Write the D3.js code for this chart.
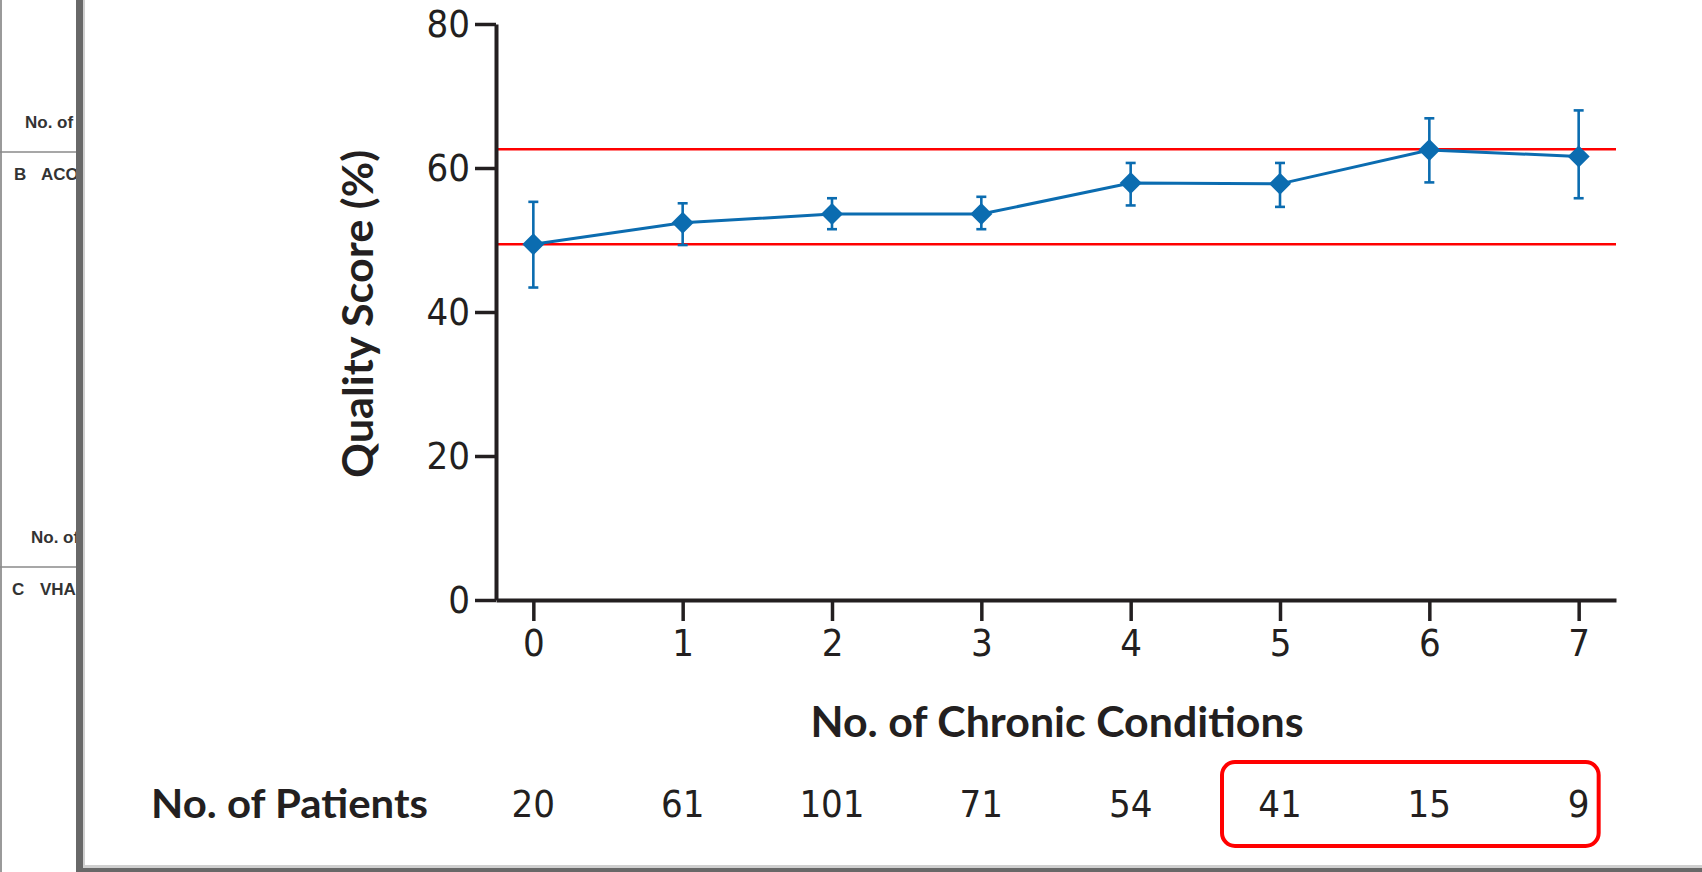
<!DOCTYPE html>
<html>
<head>
<meta charset="utf-8">
<script src="https://cdn.jsdelivr.net/npm/d3@7"></script>
<style>
  html, body { margin: 0; padding: 0; background: #fff; }
  svg { display: block; }
</style>
</head>
<body>
<svg id="chart" width="1702" height="872"></svg>
<script>
// ---- data ----
const conditions = [0, 1, 2, 3, 4, 5, 6, 7];
const meanScore  = [49.4, 52.4, 53.6, 53.6, 57.9, 57.8, 62.5, 61.6];
const upperCI    = [55.3, 55.1, 55.8, 56.0, 60.7, 60.7, 66.9, 68.0];
const lowerCI    = [43.4, 49.3, 51.5, 51.5, 54.8, 54.6, 58.0, 55.8];
const patients   = [20, 61, 101, 71, 54, 41, 15, 9];
const refLines   = [62.6, 49.4];
const yTicks     = [0, 20, 40, 60, 80];
const highlighted = [5, 6, 7];

const svg = d3.select("#chart");
const W = 1702, H = 872;
const blue = "#0b6cb0", red = "#ff0000", ink = "#231f20";
const numFont = "'Liberation Sans Narrow', 'DejaVu Sans Condensed', 'Liberation Sans', sans-serif";

// ---- scales ----
const x = d3.scaleLinear().domain([-0.25, 7.25]).range([496, 1616]);
const y = d3.scaleLinear().domain([0, 80]).range([600, 24]);

// ---- left strip (neighbouring panel fragment) ----
const strip = svg.append("g");
strip.append("line").attr("x1", 1).attr("x2", 1).attr("y1", 0).attr("y2", H)
  .attr("stroke", "#9a9a9a").attr("stroke-width", 2);
strip.selectAll("line.sep").data([152, 567]).join("line").attr("class", "sep")
  .attr("x1", 0).attr("x2", 78).attr("y1", d => d).attr("y2", d => d)
  .attr("stroke", "#8a8a8a").attr("stroke-width", 1.5);
const stripTexts = [
  {t: "No. of", x: 25, y: 128},
  {t: "B", x: 14, y: 180}, {t: "ACO", x: 41, y: 180},
  {t: "No. of", x: 31, y: 543},
  {t: "C", x: 12, y: 595}, {t: "VHA", x: 40, y: 595}
];
strip.selectAll("text").data(stripTexts).join("text")
  .attr("x", d => d.x).attr("y", d => d.y).text(d => d.t)
  .attr("font-family", "'Liberation Sans', Arial, sans-serif")
  .attr("font-weight", "bold").attr("font-size", 17).attr("fill", "#333");

// frame bars
svg.append("rect").attr("x", 76).attr("y", 0).attr("width", 7).attr("height", H).attr("fill", "#686868");
svg.append("rect").attr("x", 83).attr("y", 0).attr("width", 2).attr("height", H).attr("fill", "#cfcfcf");
svg.append("rect").attr("x", 83).attr("y", 865).attr("width", W - 83).attr("height", 3).attr("fill", "#cfcfcf");
svg.append("rect").attr("x", 76).attr("y", 868).attr("width", W - 76).attr("height", 4).attr("fill", "#686868");

// ---- reference lines ----
svg.append("g").selectAll("line").data(refLines).join("line")
  .attr("x1", x(-0.25)).attr("x2", x(7.25))
  .attr("y1", d => y(d)).attr("y2", d => y(d))
  .attr("stroke", red).attr("stroke-width", 2.5);

// ---- axes ----
const yAxis = svg.append("g").attr("transform", `translate(${x(-0.25)},0)`)
  .call(d3.axisLeft(y).tickValues(yTicks).tickSize(21).tickSizeOuter(0).tickPadding(5));
const xAxis = svg.append("g").attr("transform", `translate(0,${y(0)})`)
  .call(d3.axisBottom(x).tickValues(conditions).tickSize(21).tickSizeOuter(0).tickPadding(8)
    .tickFormat(d3.format("d")));
[yAxis, xAxis].forEach(g => {
  g.select(".domain").attr("stroke", ink).attr("stroke-width", 4);
  g.selectAll(".tick line").attr("stroke", ink).attr("stroke-width", 3.5);
  g.selectAll(".tick text").attr("fill", ink).attr("font-family", numFont).attr("font-size", 38);
});
xAxis.selectAll(".tick line").attr("y1", 2);

// ---- error bars ----
const pts = conditions.map((c, i) => ({c, m: meanScore[i], hi: upperCI[i], lo: lowerCI[i]}));
const eb = svg.append("g").attr("stroke", blue).attr("stroke-width", 2.6).attr("fill", "none");
eb.selectAll("line.v").data(pts).join("line").attr("class", "v")
  .attr("x1", d => x(d.c)).attr("x2", d => x(d.c)).attr("y1", d => y(d.hi)).attr("y2", d => y(d.lo));
eb.selectAll("line.t").data(pts).join("line").attr("class", "t")
  .attr("x1", d => x(d.c) - 5).attr("x2", d => x(d.c) + 5).attr("y1", d => y(d.hi)).attr("y2", d => y(d.hi));
eb.selectAll("line.b").data(pts).join("line").attr("class", "b")
  .attr("x1", d => x(d.c) - 5).attr("x2", d => x(d.c) + 5).attr("y1", d => y(d.lo)).attr("y2", d => y(d.lo));

// ---- line ----
svg.append("path").datum(pts)
  .attr("d", d3.line().x(d => x(d.c)).y(d => y(d.m)))
  .attr("fill", "none").attr("stroke", blue).attr("stroke-width", 3);

// ---- diamonds ----
const r = 11;
svg.append("g").selectAll("path").data(pts).join("path")
  .attr("d", d => `M${x(d.c)},${y(d.m) - r}L${x(d.c) + r},${y(d.m)}L${x(d.c)},${y(d.m) + r}L${x(d.c) - r},${y(d.m)}Z`)
  .attr("fill", blue);

// ---- titles ----
svg.append("text").text("Quality Score (%)")
  .attr("transform", `translate(373,314) rotate(-90)`)
  .attr("text-anchor", "middle")
  .attr("font-family", "Lato, 'Liberation Sans', sans-serif").attr("font-weight", "bold")
  .attr("font-size", 42).attr("fill", ink)
  .attr("textLength", 328).attr("lengthAdjust", "spacingAndGlyphs");

svg.append("text").text("No. of Chronic Conditions")
  .attr("x", 1057).attr("y", 737).attr("text-anchor", "middle")
  .attr("font-family", "Lato, 'Liberation Sans', sans-serif").attr("font-weight", "bold")
  .attr("font-size", 42).attr("fill", ink)
  .attr("textLength", 493).attr("lengthAdjust", "spacingAndGlyphs");

// ---- patient row ----
svg.append("text").text("No. of Patients")
  .attr("x", 151).attr("y", 818)
  .attr("font-family", "Lato, 'Liberation Sans', sans-serif").attr("font-weight", "bold")
  .attr("font-size", 41).attr("fill", ink)
  .attr("textLength", 277).attr("lengthAdjust", "spacingAndGlyphs");

svg.append("g").selectAll("text").data(conditions).join("text")
  .attr("x", d => x(d)).attr("y", 817).attr("text-anchor", "middle")
  .text((d, i) => patients[i])
  .attr("font-family", numFont).attr("font-size", 38).attr("fill", ink);

// highlight box around last groups
const hx0 = x(d3.min(highlighted)) - 58, hx1 = x(d3.max(highlighted)) + 20;
svg.append("rect").attr("x", hx0).attr("y", 762).attr("width", hx1 - hx0).attr("height", 84)
  .attr("rx", 13).attr("fill", "none").attr("stroke", red).attr("stroke-width", 4);
</script>
</body>
</html>
